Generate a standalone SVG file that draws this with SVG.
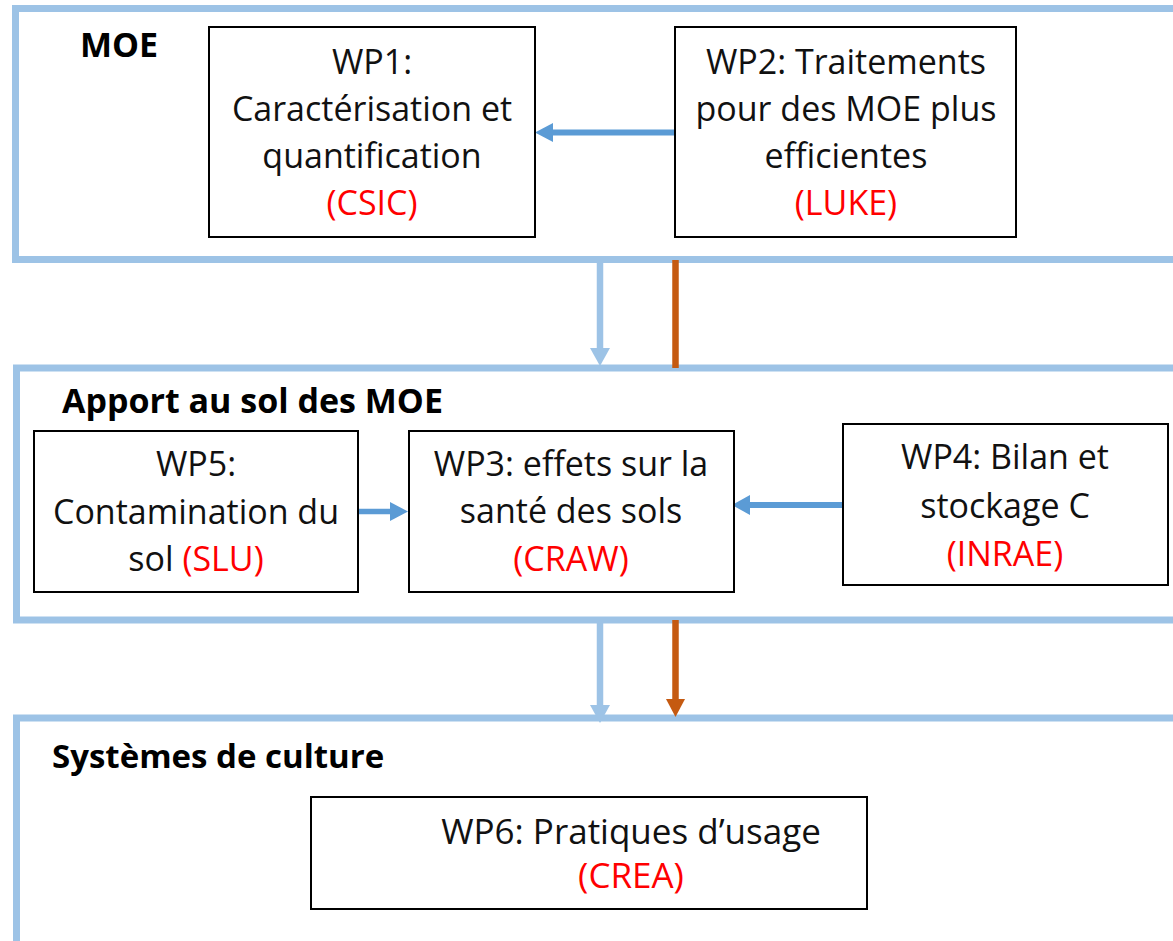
<svg xmlns="http://www.w3.org/2000/svg" width="1173" height="941" viewBox="0 0 1173 941">
<style>
.bg{fill:#ffffff}
.cont{fill:none;stroke:#9DC3E6;stroke-width:7}
.box{fill:#ffffff;stroke:#000000;stroke-width:2}
.t{font-family:"Open Sans","Liberation Sans",sans-serif;font-size:34px;fill:#111111;text-anchor:middle}
.r{fill:#FF0000}
.h{font-family:"Open Sans","Liberation Sans",sans-serif;font-size:34px;font-weight:bold;fill:#000000}
.lb{stroke:#9DC3E6;stroke-width:6.5;fill:none}
.lbh{fill:#9DC3E6}
.db{stroke:#5B9BD5;stroke-width:6;fill:none}
.dbh{fill:#5B9BD5}
.or{stroke:#C55A11;stroke-width:6.5;fill:none}
.orh{fill:#C55A11}
</style>
<rect class="bg" x="0" y="0" width="1173" height="941"/>

<g id="container-moe">
<rect class="cont" x="15.5" y="8.5" width="1200" height="251"/>
<text class="h" x="80" y="57">MOE</text>
</g>
<g id="container-apport">
<rect class="cont" x="16.5" y="368" width="1200" height="252"/>
<text class="h" x="62" y="413">Apport au sol des MOE</text>
</g>
<g id="container-systemes">
<rect class="cont" x="16.5" y="718" width="1200" height="300"/>
<text class="h" x="52" y="768" style="font-size:33px">Systèmes de culture</text>
</g>

<g id="connectors">
<line class="lb" x1="600" y1="262" x2="600" y2="350"/>
<polygon class="lbh" points="590,348 610,348 600,366"/>
<line class="or" x1="675.5" y1="260" x2="675.5" y2="368"/>
<line class="lb" x1="600" y1="622" x2="600" y2="707"/>
<polygon class="lbh" points="590,705 610,705 600,723"/>
<line class="or" x1="675.5" y1="620" x2="675.5" y2="701"/>
<polygon class="orh" points="666,699 685,699 675.5,717"/>
<line class="db" x1="676" y1="132.5" x2="551" y2="132.5"/>
<polygon class="dbh" points="553,123 553,142 535,132.5"/>
<line class="db" x1="358" y1="511.5" x2="392" y2="511.5" style="stroke-width:5.5"/>
<polygon class="dbh" points="390,502 390,521 408,511.5"/>
<line class="db" x1="843" y1="505" x2="748" y2="505"/>
<polygon class="dbh" points="750,495 750,515 732,505"/>
</g>

<g id="wp1">
<rect class="box" x="209" y="27" width="326" height="210"/>
<text class="t" x="372" y="74">WP1:</text>
<text class="t" x="372" y="121">Caractérisation et</text>
<text class="t" x="372" y="168">quantification</text>
<text class="t r" x="372" y="215">(CSIC)</text>
</g>
<g id="wp2">
<rect class="box" x="675" y="27" width="341" height="210"/>
<text class="t" x="846" y="74">WP2: Traitements</text>
<text class="t" x="846" y="121">pour des MOE plus</text>
<text class="t" x="846" y="168">efficientes</text>
<text class="t r" x="846" y="215">(LUKE)</text>
</g>
<g id="wp5">
<rect class="box" x="34" y="431" width="324" height="161"/>
<text class="t" x="196" y="476">WP5:</text>
<text class="t" x="196" y="524">Contamination du</text>
<text class="t" x="196" y="571">sol <tspan class="r">(SLU)</tspan></text>
</g>
<g id="wp3">
<rect class="box" x="409" y="431" width="325" height="161"/>
<text class="t" x="571" y="476">WP3: effets sur la</text>
<text class="t" x="571" y="523">santé des sols</text>
<text class="t r" x="571" y="571">(CRAW)</text>
</g>
<g id="wp4">
<rect class="box" x="843" y="424" width="325" height="161"/>
<text class="t" x="1005" y="469">WP4: Bilan et</text>
<text class="t" x="1005" y="518">stockage C</text>
<text class="t r" x="1005" y="566">(INRAE)</text>
</g>
<g id="wp6">
<rect class="box" x="311" y="797" width="556" height="112"/>
<text class="t" x="631" y="844" style="font-size:35px">WP6: Pratiques d’usage</text>
<text class="t r" x="631" y="888" style="font-size:35px">(CREA)</text>
</g>
</svg>
